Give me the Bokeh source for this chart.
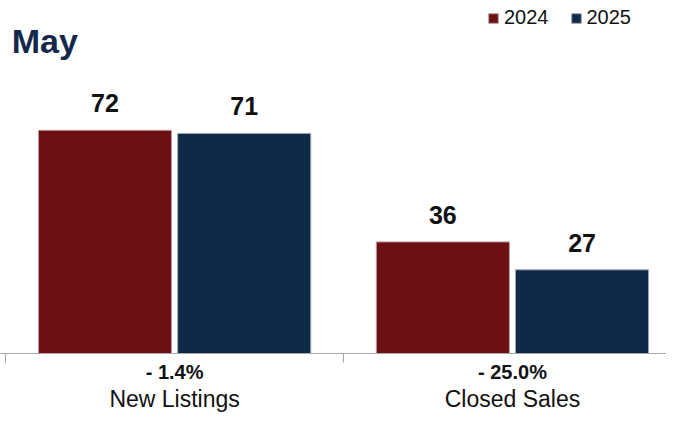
from bokeh.plotting import figure
from bokeh.models import (ColumnDataSource, Range1d, FixedTicker, LinearAxis,
                          Label, Legend, LegendItem, LabelSet)
from bokeh.core.properties import value
from bokeh.transform import dodge
from bokeh.embed import file_html
from bokeh.resources import INLINE

categories = ["New Listings", "Closed Sales"]
changes = ["- 1.4%", "- 25.0%"]
v2024 = [72, 36]
v2025 = [71, 27]
years = ["2024", "2025"]

RED = "#6D1013"
NAVY = "#0F2A47"
FONT = "Liberation Sans"

FH = 353            # frame height: zero line sits at its bottom
PX = 3.10           # pixels per unit
YTOP = FH / PX

idx = [i + 0.5 for i in range(len(categories))]
src = ColumnDataSource(dict(x=idx, a=v2024, b=v2025,
                            la=[str(v) for v in v2024], lb=[str(v) for v in v2025]))

p = figure(frame_width=666, frame_height=FH, output_backend="svg", toolbar_location=None,
           x_range=Range1d(-0.0154, 1.956), y_range=Range1d(0, YTOP),
           min_border_left=0, min_border_right=0, min_border_top=0, min_border_bottom=0,
           x_axis_location=None, y_axis_location=None)
p.outline_line_color = None
p.grid.visible = False

off = 0.206
bw = 0.394
r1 = p.vbar(x=dodge("x", -off), top="a", width=bw, source=src, fill_color=RED,
            line_color="#b9a0a0", line_width=1)
r2 = p.vbar(x=dodge("x", off), top="b", width=bw, source=src, fill_color=NAVY,
            line_color="#a0a8b4", line_width=1)

for col, lab, dx in (("a", "la", -off), ("b", "lb", off)):
    p.add_layout(LabelSet(x=dodge("x", dx), y=col, text=lab, source=src,
                          text_align="center", text_baseline="alphabetic", y_offset=18,
                          text_font=value(FONT), text_font_style="bold",
                          text_font_size="25px", text_color="#111111"))

ax1 = LinearAxis(ticker=FixedTicker(ticks=idx, minor_ticks=[0, 1, 2]),
                 major_label_overrides={i: c for i, c in zip(idx, changes)})
ax1.axis_line_color = "#a6a6a6"
ax1.major_tick_line_color = None
ax1.major_tick_out = 0
ax1.major_tick_in = 0
ax1.minor_tick_line_color = "#a6a6a6"
ax1.minor_tick_out = 9
ax1.minor_tick_in = 0
ax1.major_label_standoff = -2
ax1.axis_label_standoff = 0
ax1.major_label_text_font = FONT
ax1.major_label_text_font_style = "bold"
ax1.major_label_text_font_size = "20px"
ax1.major_label_text_color = "#111111"
p.add_layout(ax1, "below")

ax2 = LinearAxis(ticker=FixedTicker(ticks=idx, minor_ticks=[]),
                 major_label_overrides={i: c for i, c in zip(idx, categories)})
ax2.axis_line_color = None
ax2.major_tick_line_color = None
ax2.major_tick_out = 0
ax2.major_tick_in = 0
ax2.minor_tick_line_color = None
ax2.minor_tick_out = 0
ax2.major_label_standoff = 0
ax2.axis_label_standoff = 0
ax2.major_label_text_font = FONT
ax2.major_label_text_font_size = "23px"
ax2.major_label_text_color = "#111111"
p.add_layout(ax2, "below")

p.add_layout(Label(x=0, y=YTOP, x_offset=6, y_offset=-40, text="May",
                   text_baseline="alphabetic", text_font=FONT, text_font_style="bold",
                   text_font_size="34px", text_color="#13294B"))

legend = Legend(items=[LegendItem(label=years[0], renderers=[r1]),
                       LegendItem(label=years[1], renderers=[r2])],
                orientation="horizontal", location=(487, 324),
                glyph_width=12, glyph_height=12, label_height=20, label_text_font=FONT,
                label_text_font_size="20px", label_standoff=5, spacing=21,
                padding=0, margin=0, border_line_color=None,
                background_fill_alpha=0, label_text_color="#111111")
p.add_layout(legend, "center")

open("out.html", "w").write(file_html(p, INLINE))
